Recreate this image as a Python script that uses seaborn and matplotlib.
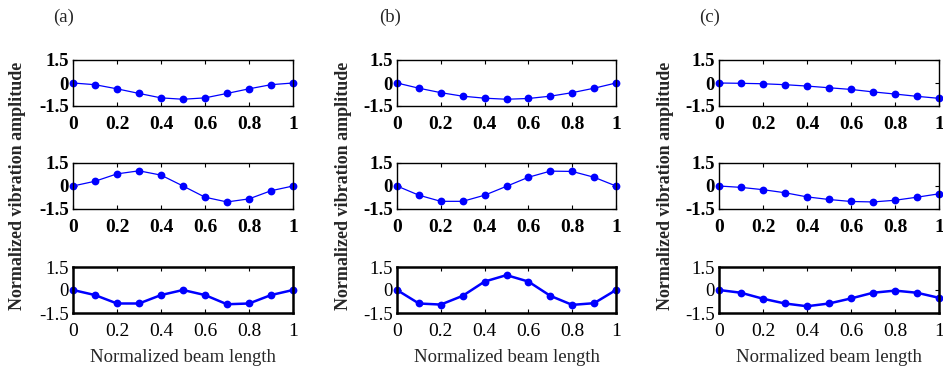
import numpy as np
import pandas as pd
import matplotlib
matplotlib.use("Agg")
import matplotlib.pyplot as plt
import seaborn as sns

# ---- data ----
beam_x = [0, 0.1, 0.2, 0.3, 0.4, 0.5, 0.6, 0.7, 0.8, 0.9, 1.0]

a_mode1 = [0, -0.11, -0.38, -0.68, -0.97, -1.06, -0.97, -0.68, -0.38, -0.11, 0]
a_mode2 = [0, 0.31, 0.79, 0.99, 0.71, 0, -0.73, -1.04, -0.84, -0.31, 0]
a_mode3 = [0, -0.33, -0.88, -0.88, -0.33, 0, -0.33, -0.93, -0.88, -0.33, 0]

b_mode1 = [0, -0.34, -0.63, -0.86, -0.99, -1.06, -1.01, -0.86, -0.63, -0.34, 0]
b_mode2 = [0, -0.6, -1.0, -1.0, -0.6, -0.02, 0.57, 0.97, 0.95, 0.57, 0]
b_mode3 = [0, -0.88, -0.95, -0.38, 0.55, 0.97, 0.55, -0.38, -0.97, -0.86, 0]

c_mode1 = [0, -0.02, -0.05, -0.11, -0.2, -0.31, -0.42, -0.58, -0.72, -0.87, -1.0]
c_mode2 = [0, -0.09, -0.24, -0.44, -0.71, -0.88, -1.01, -1.04, -0.93, -0.73, -0.51]
c_mode3 = [0, -0.18, -0.57, -0.88, -1.06, -0.88, -0.55, -0.18, -0.04, -0.18, -0.51]

panel_labels = ["(a)", "(b)", "(c)"]
x_ticks = [0, 0.2, 0.4, 0.6, 0.8, 1]
x_tick_labels = ["0", "0.2", "0.4", "0.6", "0.8", "1"]
y_ticks = [-1.5, 0, 1.5]
y_tick_labels = ["-1.5", "0", "1.5"]
x_label = "Normalized beam length"
y_label = "Normalized vibration amplitude"

columns = [[a_mode1, a_mode2, a_mode3],
           [b_mode1, b_mode2, b_mode3],
           [c_mode1, c_mode2, c_mode3]]

# ---- style ----
sns.set_style("ticks")
plt.rcParams["font.family"] = ["Liberation Serif", "DejaVu Serif"]

W, H = 943, 372
fig = plt.figure(figsize=(W / 100, H / 100), dpi=100)

col_left = [73, 397, 719]
col_width = [220, 219, 220]
row_top = [60, 163, 267]
row_h = 46
label_x = [64, 390, 710]
ylabel_x = [18, 343, 666]

for ci, modes in enumerate(columns):
    for ri, vals in enumerate(modes):
        l = col_left[ci]
        w = col_width[ci]
        t = row_top[ri]
        ax = fig.add_axes([l / W, 1 - (t + row_h) / H, w / W, row_h / H])
        df = pd.DataFrame({"x": beam_x, "y": vals})
        bottom = ri == 2
        sns.lineplot(data=df, x="x", y="y", ax=ax, color="#0000FF",
                     marker="o", markersize=5.6, markeredgewidth=0,
                     linewidth=1.8 if bottom else 0.9)
        ax.set_xlim(0, 1)
        ax.set_ylim(-1.5, 1.5)
        ax.set_xticks(x_ticks)
        ax.set_yticks(y_ticks)
        ax.set_xticklabels(x_tick_labels, fontsize=14,
                           fontweight="normal" if bottom else "bold")
        ax.set_yticklabels(y_tick_labels, fontsize=13.5,
                           fontweight="normal" if bottom else "bold")
        ax.set_xlabel("")
        ax.set_ylabel("")
        ax.tick_params(direction="in", top=True, right=True, length=3,
                       width=0.8, colors="black")
        ax.tick_params(axis="x", pad=7)
        ax.tick_params(axis="y", pad=3)
        for sp in ax.spines.values():
            sp.set_visible(True)
            sp.set_color("black")
            sp.set_linewidth(1.8 if bottom else 1.0)
        for m in ax.lines:
            m.set_clip_on(False)

    cx = col_left[ci] + col_width[ci] / 2
    fig.text(cx / W, 1 - 358 / H, x_label, ha="center", va="center",
             fontsize=13.5)
    fig.text(label_x[ci] / W, 1 - 17 / H, panel_labels[ci], ha="center",
             va="center", fontsize=13.5)
    fig.text(ylabel_x[ci] / W, 1 - 186 / H, y_label, ha="center",
             va="center", rotation=90, fontsize=13, fontweight="bold")

fig.savefig("out.png", dpi=100)
